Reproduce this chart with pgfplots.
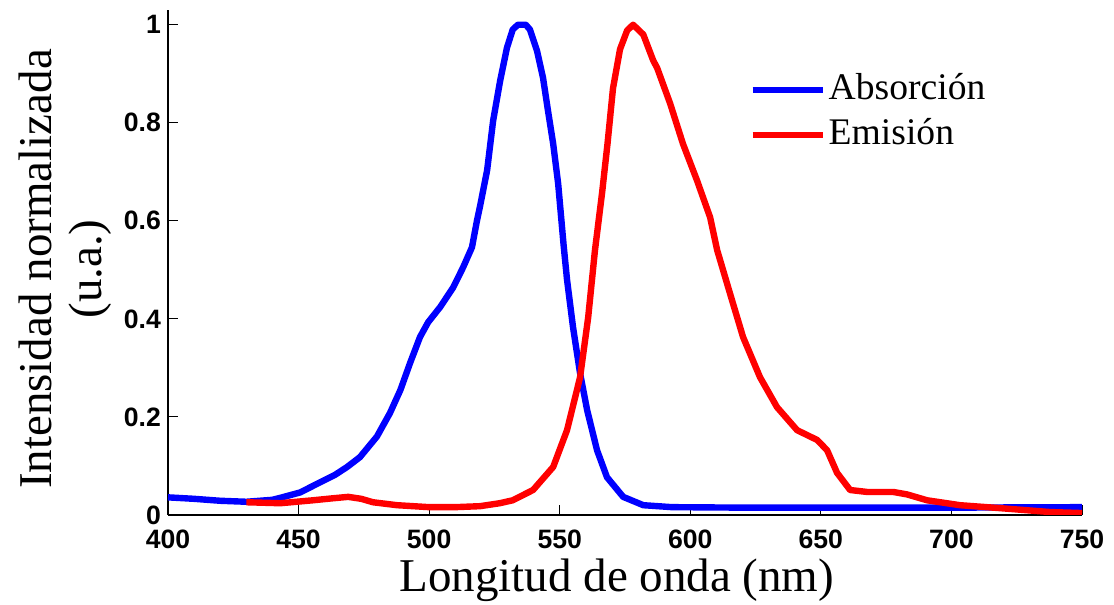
\documentclass[border=0pt]{standalone}
\usepackage{fontspec}
\setmainfont{Liberation Serif}
\setsansfont{Liberation Sans}
\usepackage{pgfplots}
\pgfplotsset{compat=1.18}
\definecolor{mblue}{RGB}{0,0,255}
\definecolor{mred}{RGB}{255,0,0}
\begin{document}
\begin{tikzpicture}
\useasboundingbox (-84pt,-45pt) rectangle (473pt,257.5pt);
\begin{axis}[
  scale only axis,
  width=457pt, height=252.5pt,
  xmin=400, xmax=750, ymin=0, ymax=1.03,
  axis x line=bottom, axis y line=left,
  axis line style={-, line width=0.6pt, black},
  xtick={400,450,...,750},
  ytick={0,0.2,0.4,0.6,0.8,1},
  tick align=inside,
  major tick length=5pt,
  tick style={black, line width=0.5pt},
  /pgf/number format/assume math mode=true,
  ticklabel style={font=\fontsize{13.3}{15}\selectfont\sffamily\bfseries},
  xticklabel style={inner sep=0pt, yshift=-7.5pt},
  xlabel={Longitud de onda (nm)},
  ylabel={Intensidad normalizada\\(u.a.)},
  label style={font=\fontsize{23.5}{25}\selectfont},
  xlabel style={at={(axis description cs:0.491,-0.129)}, anchor=center, inner sep=0pt},
  ylabel style={at={(axis description cs:-0.1127,0.487)}, anchor=center, align=center},
  legend style={draw=none, fill=none, inner sep=0pt, outer sep=0pt,
    font=\fontsize{18.8}{20}\selectfont,
    at={(axis description cs:0.636,0.797)}, anchor=west,
    nodes={inner sep=1.5pt, text height=13pt, text depth=4pt},
    row sep=2.5pt},
  legend cell align=left,
  legend image code/.code={\draw[#1] (0pt,0pt) -- (35pt,0pt);},
]
\addplot[mblue, line width=3.2pt, line join=round] coordinates {
(400,0.036) (410,0.033) (420,0.029) (430,0.027) (440,0.031) (443,0.035)
(450.6,0.046) (458,0.066) (464,0.082) (468.6,0.098) (473.5,0.118) (480,0.160)
(485,0.208) (489,0.255) (492.7,0.31) (496.5,0.363) (499.6,0.393) (504.2,0.424)
(509.2,0.464) (513,0.505) (516.4,0.546) (518.3,0.60) (519.5,0.63) (522.2,0.703)
(524.5,0.804) (527.2,0.886) (529.8,0.953) (532,0.99) (534,1.0) (535.6,1.0) (537,1.0) (538.6,0.99)
(541.3,0.947) (543.6,0.892) (545.5,0.825) (547.5,0.757) (549.4,0.676) (551.5,0.55)
(552.8,0.48) (555.1,0.383) (557.8,0.289) (560.5,0.214) (564.3,0.132) (568.1,0.077)
(574.3,0.037) (582,0.02) (593,0.016) (620,0.015) (650,0.015) (700,0.015) (750,0.016)
};
\addlegendentry{Absorción}
\addplot[mred, line width=3.2pt, line join=round] coordinates {
(430,0.026) (443,0.024) (455.5,0.03) (463,0.034) (469,0.037) (474,0.033)
(478.5,0.026) (487.7,0.02) (500,0.016) (510,0.016) (519.5,0.018) (527,0.024)
(532,0.03) (539.8,0.051) (547.5,0.098) (552.8,0.173) (557.8,0.281) (560.9,0.403)
(563.5,0.54) (566.2,0.656) (568.3,0.757) (570.4,0.87) (573.1,0.95) (575.8,0.988)
(578.1,1.0) (582,0.98) (585.8,0.927) (587.3,0.912) (592.3,0.839) (597.2,0.757)
(602.6,0.682) (607.6,0.607) (610.3,0.54) (615.2,0.452) (620.2,0.363) (626.7,0.281)
(633.2,0.22) (640.9,0.173) (648.6,0.153) (652.4,0.132) (656.2,0.086) (661.2,0.051)
(667.7,0.047) (677.7,0.047) (683,0.042) (690.7,0.03) (703.3,0.02) (718.6,0.014)
(737.8,0.006) (750,0.004)
};
\addlegendentry{Emisión}
\end{axis}
\end{tikzpicture}
\end{document}
